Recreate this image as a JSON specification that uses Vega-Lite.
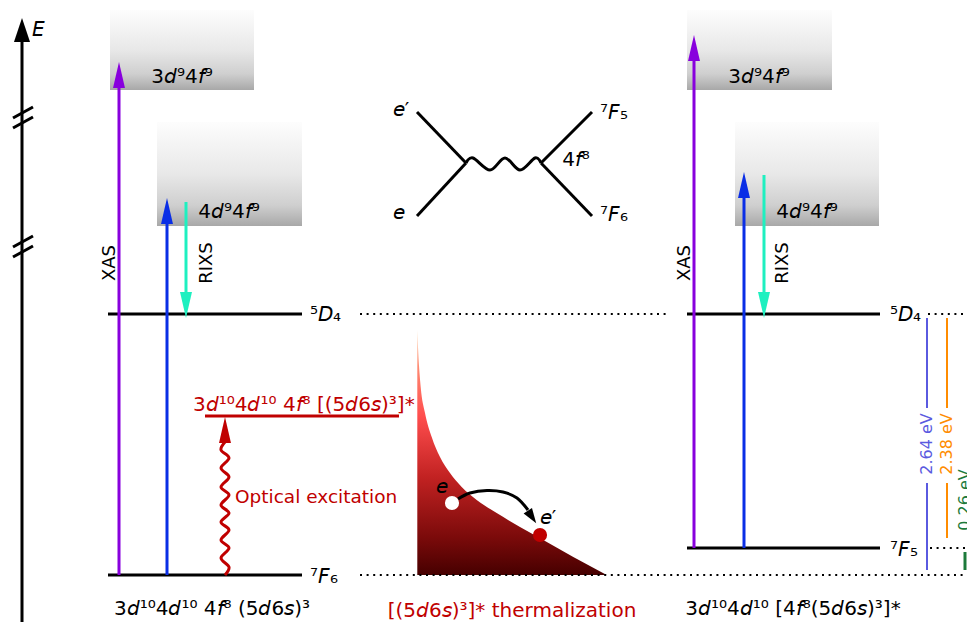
{
"$schema": "https://vega.github.io/schema/vega-lite/v6.json",
"width": 967, "height": 627,
"autosize": {"type": "none"},
"padding": 0,
"background": "white",
"config": {"view": {"stroke": null}},
"datasets": {
 "boxes": [
  {"x":110,"x2":254,"y":10,"y2":90},
  {"x":157,"x2":302,"y":122,"y2":226},
  {"x":687,"x2":832,"y":10,"y2":90},
  {"x":735,"x2":879,"y":122,"y2":226}
 ],
 "thermal": [
  {"x":417.3,"y":330},{"x":418.3,"y":353},{"x":420.7,"y":387},{"x":425,"y":413},{"x":431.7,"y":437},
  {"x":440,"y":457},{"x":450,"y":473},{"x":461.7,"y":487},{"x":476.7,"y":500},{"x":496.7,"y":513},
  {"x":520,"y":527},{"x":543.3,"y":540},{"x":573.3,"y":557},{"x":606.7,"y":575}
 ],
 "dots": [
  {"x":360,"x2":668,"y":314,"y2":314},
  {"x":928,"x2":967,"y":314,"y2":314},
  {"x":930,"x2":967,"y":548,"y2":548},
  {"x":360,"x2":967,"y":575,"y2":575}
 ],
 "thick": [
  {"x":108,"x2":302,"y":314,"y2":314,"kind":"level"},
  {"x":108,"x2":302,"y":575,"y2":575,"kind":"level"},
  {"x":687,"x2":880,"y":314,"y2":314,"kind":"level"},
  {"x":687,"x2":880,"y":548,"y2":548,"kind":"level"},
  {"x":205,"x2":399,"y":416,"y2":416,"kind":"optical"},
  {"x":417,"y":112,"x2":466,"y2":163,"kind":"level"},
  {"x":417,"y":216,"x2":466,"y2":163,"kind":"level"},
  {"x":541,"y":163,"x2":592,"y2":112,"kind":"level"},
  {"x":541,"y":163,"x2":592,"y2":216,"kind":"level"},
  {"x":119,"x2":119,"y":575,"y2":80,"kind":"xas"},
  {"x":167,"x2":167,"y":575,"y2":215,"kind":"rixs_in"},
  {"x":186,"x2":186,"y":202,"y2":300,"kind":"rixs_out"},
  {"x":694,"x2":694,"y":548,"y2":53,"kind":"xas"},
  {"x":744,"x2":744,"y":548,"y2":190,"kind":"rixs_in"},
  {"x":764,"x2":764,"y":175,"y2":300,"kind":"rixs_out"},
  {"x":965,"x2":965,"y":552,"y2":570,"kind":"e026"},
  {"x":22,"x2":22,"y":40,"y2":622,"kind":"level"},
  {"x":13,"y":118,"x2":33,"y2":107,"kind":"level"},
  {"x":13,"y":128,"x2":33,"y2":117,"kind":"level"},
  {"x":13,"y":247,"x2":33,"y2":236,"kind":"level"},
  {"x":13,"y":257,"x2":33,"y2":246,"kind":"level"}
 ],
 "thin": [
  {"x":927,"x2":927,"y":318,"y2":408,"kind":"e264"},
  {"x":927,"x2":927,"y":483,"y2":570,"kind":"e264"},
  {"x":947,"x2":947,"y":318,"y2":408,"kind":"e238"},
  {"x":947,"x2":947,"y":483,"y2":538,"kind":"e238"}
 ],
 "curves": [
  {"id":"w1","seq":0,"x":225,"y":575,"kind":"optical"},
  {"id":"w1","seq":1,"x":229,"y":567,"kind":"optical"},
  {"id":"w1","seq":2,"x":221,"y":558,"kind":"optical"},
  {"id":"w1","seq":3,"x":229,"y":548,"kind":"optical"},
  {"id":"w1","seq":4,"x":221,"y":540,"kind":"optical"},
  {"id":"w1","seq":5,"x":229,"y":530,"kind":"optical"},
  {"id":"w1","seq":6,"x":221,"y":522,"kind":"optical"},
  {"id":"w1","seq":7,"x":229,"y":513,"kind":"optical"},
  {"id":"w1","seq":8,"x":221,"y":505,"kind":"optical"},
  {"id":"w1","seq":9,"x":229,"y":495,"kind":"optical"},
  {"id":"w1","seq":10,"x":221,"y":487,"kind":"optical"},
  {"id":"w1","seq":11,"x":229,"y":477,"kind":"optical"},
  {"id":"w1","seq":12,"x":221,"y":468,"kind":"optical"},
  {"id":"w1","seq":13,"x":229,"y":458,"kind":"optical"},
  {"id":"w1","seq":14,"x":221,"y":450,"kind":"optical"},
  {"id":"w1","seq":15,"x":225,"y":442,"kind":"optical"},
  {"id":"w2","seq":0,"x":466,"y":163,"kind":"level"},
  {"id":"w2","seq":1,"x":473,"y":158,"kind":"level"},
  {"id":"w2","seq":2,"x":490,"y":170,"kind":"level"},
  {"id":"w2","seq":3,"x":505,"y":158,"kind":"level"},
  {"id":"w2","seq":4,"x":520,"y":170,"kind":"level"},
  {"id":"w2","seq":5,"x":535,"y":158,"kind":"level"},
  {"id":"w2","seq":6,"x":541,"y":163,"kind":"level"},
  {"id":"w3","seq":0,"x":458,"y":499,"kind":"level"},
  {"id":"w3","seq":1,"x":470,"y":493,"kind":"level"},
  {"id":"w3","seq":2,"x":487,"y":490.5,"kind":"level"},
  {"id":"w3","seq":3,"x":503,"y":492,"kind":"level"},
  {"id":"w3","seq":4,"x":517,"y":498,"kind":"level"},
  {"id":"w3","seq":5,"x":528,"y":510,"kind":"level"}
 ],
 "headsUp": [
  {"x":119,"y":75,"kind":"xas"},
  {"x":167,"y":211,"kind":"rixs_in"},
  {"x":694,"y":48,"kind":"xas"},
  {"x":744,"y":185,"kind":"rixs_in"},
  {"x":225,"y":430,"kind":"optical"}
 ],
 "headsDown": [
  {"x":186,"y":305,"kind":"rixs_out"},
  {"x":764,"y":305,"kind":"rixs_out"}
 ],
 "axisHead": [{"x":22,"y":30,"kind":"level"}],
 "curveHead": [{"x":532,"y":517,"kind":"level"}],
 "electrons": [
  {"x":452,"y":503,"kind":"electron_in"},
  {"x":540,"y":535,"kind":"electron_out"}
 ],
 "textCenter": [
  {"x":182,"y":77,"label":"3𝘥⁹4𝘧⁹","kind":"level"},
  {"x":759,"y":77,"label":"3𝘥⁹4𝘧⁹","kind":"level"},
  {"x":229,"y":212,"label":"4𝘥⁹4𝘧⁹","kind":"level"},
  {"x":807,"y":212,"label":"4𝘥⁹4𝘧⁹","kind":"level"},
  {"x":212,"y":609,"label":"3𝘥¹⁰4𝘥¹⁰ 4𝘧⁸ (5𝘥6𝘴)³","kind":"level"},
  {"x":793,"y":609,"label":"3𝘥¹⁰4𝘥¹⁰ [4𝘧⁸(5𝘥6𝘴)³]*","kind":"level"},
  {"x":512,"y":611,"label":"[(5𝘥6𝘴)³]* thermalization","kind":"optical"},
  {"x":401,"y":110,"label":"𝘦′","kind":"level"},
  {"x":399,"y":213,"label":"𝘦","kind":"level"},
  {"x":614,"y":113,"label":"⁷𝘍₅","kind":"level"},
  {"x":614,"y":215,"label":"⁷𝘍₆","kind":"level"},
  {"x":576,"y":160,"label":"4𝘧⁸","kind":"level"},
  {"x":442,"y":487,"label":"𝘦","kind":"level"},
  {"x":548,"y":518,"label":"𝘦′","kind":"level"},
  {"x":38,"y":30,"label":"𝘌","kind":"level"}
 ],
 "textLeft": [
  {"x":310,"y":315,"label":"⁵𝘋₄","kind":"level"},
  {"x":310,"y":577,"label":"⁷𝘍₆","kind":"level"},
  {"x":890,"y":315,"label":"⁵𝘋₄","kind":"level"},
  {"x":890,"y":550,"label":"⁷𝘍₅","kind":"level"},
  {"x":193,"y":405,"label":"3𝘥¹⁰4𝘥¹⁰ 4𝘧⁸ [(5𝘥6𝘴)³]*","kind":"optical"}
 ],
 "textPlain": [
  {"x":235,"y":497,"label":"Optical excitation","kind":"optical"}
 ],
 "textRot": [
  {"x":110,"y":263,"label":"XAS","kind":"level"},
  {"x":685,"y":263,"label":"XAS","kind":"level"},
  {"x":207,"y":263,"label":"RIXS","kind":"level"},
  {"x":783,"y":263,"label":"RIXS","kind":"level"}
 ],
 "textEv": [
  {"x":927,"y":444,"label":"2.64 eV","kind":"e264"},
  {"x":947,"y":444,"label":"2.38 eV","kind":"e238"},
  {"x":965,"y":500,"label":"0.26 eV","kind":"e026"}
 ]
},
"encoding": {
 "x": {"field":"x","type":"quantitative","scale":{"domain":[0,967],"nice":false,"zero":false},"axis":null},
 "y": {"field":"y","type":"quantitative","scale":{"domain":[0,627],"nice":false,"zero":false,"reverse":true},"axis":null}
},
"layer": [
 {"data":{"name":"boxes"},
  "mark":{"type":"rect","stroke":null,"fill":{"gradient":"linear","x1":0,"y1":0,"x2":0,"y2":1,"stops":[{"offset":0,"color":"#fdfdfd"},{"offset":0.5,"color":"#e8e8e8"},{"offset":0.8,"color":"#cfcfcf"},{"offset":1,"color":"#a8a8a8"}]}},
  "encoding":{"x2":{"field":"x2"},"y2":{"field":"y2"}}},
 {"data":{"name":"thermal"},
  "mark":{"type":"area","interpolate":"monotone","fill":{"gradient":"linear","x1":0,"y1":0,"x2":0,"y2":1,"stops":[{"offset":0,"color":"#ffdcb8"},{"offset":0.15,"color":"#ff8a72"},{"offset":0.35,"color":"#ff4e4e"},{"offset":0.6,"color":"#c22222"},{"offset":0.85,"color":"#7a0a0a"},{"offset":1,"color":"#460000"}]}},
  "encoding":{"y2":{"datum":575}}},
 {"data":{"name":"dots"},
  "mark":{"type":"rule","color":"#000000","strokeWidth":2.2,"strokeDash":[2,4.6],"strokeCap":"butt"},
  "encoding":{"x2":{"field":"x2"},"y2":{"field":"y2"}}},
 {"data":{"name":"thick"},
  "mark":{"type":"rule","strokeWidth":3},
  "encoding":{"x2":{"field":"x2"},"y2":{"field":"y2"},
   "color":{"field":"kind","type":"nominal","legend":null,"scale":{"domain":["level","xas","rixs_in","rixs_out","optical","e264","e238","e026","electron_in","electron_out"],"range":["#000000","#8800dd","#0a2ee6","#1ef0c0","#c00000","#5a5ae0","#ff8c00","#1d7a3b","#ffffff","#c00000"]}}}},
 {"data":{"name":"thin"},
  "mark":{"type":"rule","strokeWidth":2},
  "encoding":{"x2":{"field":"x2"},"y2":{"field":"y2"},
   "color":{"field":"kind","type":"nominal","legend":null,"scale":{"domain":["level","xas","rixs_in","rixs_out","optical","e264","e238","e026","electron_in","electron_out"],"range":["#000000","#8800dd","#0a2ee6","#1ef0c0","#c00000","#5a5ae0","#ff8c00","#1d7a3b","#ffffff","#c00000"]}}}},
 {"data":{"name":"curves"},
  "mark":{"type":"line","interpolate":"cardinal","strokeWidth":3},
  "encoding":{"order":{"field":"seq","type":"quantitative"},"detail":{"field":"id","type":"nominal"},
   "color":{"field":"kind","type":"nominal","legend":null,"scale":{"domain":["level","xas","rixs_in","rixs_out","optical","e264","e238","e026","electron_in","electron_out"],"range":["#000000","#8800dd","#0a2ee6","#1ef0c0","#c00000","#5a5ae0","#ff8c00","#1d7a3b","#ffffff","#c00000"]}}}},
 {"data":{"name":"headsUp"},
  "mark":{"type":"point","shape":"M-0.46,1L0,-1L0.46,1Z","size":676,"filled":true,"opacity":1,"strokeWidth":0},
  "encoding":{"color":{"field":"kind","type":"nominal","legend":null,"scale":{"domain":["level","xas","rixs_in","rixs_out","optical","e264","e238","e026","electron_in","electron_out"],"range":["#000000","#8800dd","#0a2ee6","#1ef0c0","#c00000","#5a5ae0","#ff8c00","#1d7a3b","#ffffff","#c00000"]}}}},
 {"data":{"name":"headsDown"},
  "mark":{"type":"point","shape":"M-0.46,-1L0,1L0.46,-1Z","size":676,"filled":true,"opacity":1,"strokeWidth":0},
  "encoding":{"color":{"field":"kind","type":"nominal","legend":null,"scale":{"domain":["level","xas","rixs_in","rixs_out","optical","e264","e238","e026","electron_in","electron_out"],"range":["#000000","#8800dd","#0a2ee6","#1ef0c0","#c00000","#5a5ae0","#ff8c00","#1d7a3b","#ffffff","#c00000"]}}}},
 {"data":{"name":"axisHead"},
  "mark":{"type":"point","shape":"M-0.67,1L0,-1L0.67,1Z","size":576,"filled":true,"opacity":1,"strokeWidth":0,"color":"#000000"}},
 {"data":{"name":"curveHead"},
  "mark":{"type":"point","shape":"M-0.67,1L0,-1L0.67,1Z","size":225,"angle":146,"filled":true,"opacity":1,"strokeWidth":0,"color":"#000000"}},
 {"data":{"name":"electrons"},
  "mark":{"type":"point","shape":"circle","size":200,"filled":true,"opacity":1,"strokeWidth":0},
  "encoding":{"color":{"field":"kind","type":"nominal","legend":null,"scale":{"domain":["level","xas","rixs_in","rixs_out","optical","e264","e238","e026","electron_in","electron_out"],"range":["#000000","#8800dd","#0a2ee6","#1ef0c0","#c00000","#5a5ae0","#ff8c00","#1d7a3b","#ffffff","#c00000"]}}}},
 {"data":{"name":"textCenter"},
  "mark":{"type":"text","font":"DejaVu Sans","fontSize":20,"align":"center","baseline":"middle"},
  "encoding":{"text":{"field":"label"},
   "color":{"field":"kind","type":"nominal","legend":null,"scale":{"domain":["level","xas","rixs_in","rixs_out","optical","e264","e238","e026","electron_in","electron_out"],"range":["#000000","#8800dd","#0a2ee6","#1ef0c0","#c00000","#5a5ae0","#ff8c00","#1d7a3b","#ffffff","#c00000"]}}}},
 {"data":{"name":"textLeft"},
  "mark":{"type":"text","font":"DejaVu Sans","fontSize":20,"align":"left","baseline":"middle"},
  "encoding":{"text":{"field":"label"},
   "color":{"field":"kind","type":"nominal","legend":null,"scale":{"domain":["level","xas","rixs_in","rixs_out","optical","e264","e238","e026","electron_in","electron_out"],"range":["#000000","#8800dd","#0a2ee6","#1ef0c0","#c00000","#5a5ae0","#ff8c00","#1d7a3b","#ffffff","#c00000"]}}}},
 {"data":{"name":"textPlain"},
  "mark":{"type":"text","font":"DejaVu Sans","fontSize":18.5,"align":"left","baseline":"middle","color":"#c00000"},
  "encoding":{"text":{"field":"label"}}},
 {"data":{"name":"textRot"},
  "mark":{"type":"text","font":"DejaVu Sans","fontSize":18,"align":"center","baseline":"middle","angle":270,"color":"#000000"},
  "encoding":{"text":{"field":"label"}}},
 {"data":{"name":"textEv"},
  "mark":{"type":"text","font":"DejaVu Sans","fontSize":16,"align":"center","baseline":"middle","angle":270},
  "encoding":{"text":{"field":"label"},
   "color":{"field":"kind","type":"nominal","legend":null,"scale":{"domain":["level","xas","rixs_in","rixs_out","optical","e264","e238","e026","electron_in","electron_out"],"range":["#000000","#8800dd","#0a2ee6","#1ef0c0","#c00000","#5a5ae0","#ff8c00","#1d7a3b","#ffffff","#c00000"]}}}}
]
}
